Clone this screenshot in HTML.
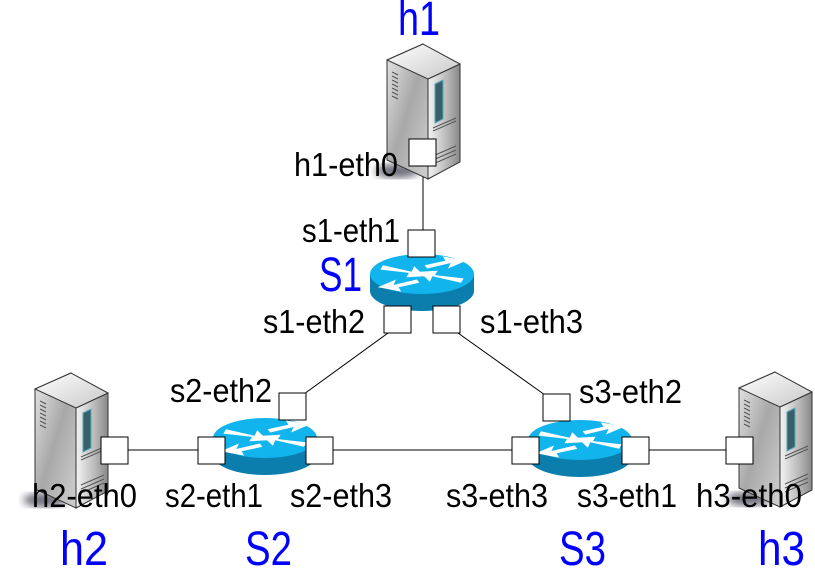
<!DOCTYPE html>
<html><head><meta charset="utf-8"><style>
html,body{margin:0;padding:0;background:#fff;width:815px;height:570px;overflow:hidden}
svg{display:block}
text{font-family:"Liberation Sans",sans-serif}
.l{font-size:33px;fill:#000}
.b{font-size:48px;fill:#0000ff}
</style></head><body>
<svg width="815" height="570" viewBox="0 0 815 570" xmlns="http://www.w3.org/2000/svg">
<defs>
<linearGradient id="sl" x1="0" y1="0" x2="1" y2="1">
<stop offset="0" stop-color="#e8e8e8"/><stop offset="0.5" stop-color="#a8a8a8"/><stop offset="1" stop-color="#d0d0d0"/></linearGradient>
<linearGradient id="sr" x1="0" y1="0" x2="1" y2="0">
<stop offset="0" stop-color="#f4f4f4"/><stop offset="0.6" stop-color="#b8b8b8"/><stop offset="1" stop-color="#888"/></linearGradient>
<linearGradient id="st" x1="0" y1="0" x2="1" y2="1">
<stop offset="0" stop-color="#ffffff"/><stop offset="1" stop-color="#c8c8c8"/></linearGradient>
<filter id="blur"><feGaussianBlur stdDeviation="4"/></filter>
<g id="srv">
<ellipse cx="-26" cy="127" rx="22" ry="7" fill="#334" opacity="0.7" filter="url(#blur)"/>
<path d="M0 0 L-36 16 L-36 116 L5 135 L5 35 Z" fill="url(#sl)" stroke="#333" stroke-width="1"/>
<path d="M5 35 L37 20 L37 118 L5 135 Z" fill="url(#sr)" stroke="#333" stroke-width="1"/>
<path d="M0 0 L-36 16 L5 35 L37 20 Z" fill="url(#st)" stroke="#333" stroke-width="1"/>
<path d="M12 40 L20 36 L20 75 L12 79 Z" fill="#386068" stroke="#5ab" stroke-width="1"/>
<g stroke="#555" stroke-width="1">
<line x1="-31" y1="28" x2="-25" y2="31"/><line x1="-31" y1="32" x2="-25" y2="35"/><line x1="-31" y1="36" x2="-25" y2="39"/><line x1="-31" y1="40" x2="-25" y2="43"/><line x1="-31" y1="44" x2="-25" y2="47"/><line x1="-31" y1="48" x2="-25" y2="51"/><line x1="-31" y1="52" x2="-25" y2="55"/>
<line x1="10" y1="84" x2="33" y2="74"/><line x1="10" y1="87" x2="33" y2="77"/>
<line x1="10" y1="112" x2="33" y2="102"/><line x1="10" y1="116" x2="33" y2="106"/><line x1="10" y1="120" x2="33" y2="110"/>
</g>
</g>
<g id="rtr">
<path d="M-52 0 L-52 17 A52 20 0 0 0 52 17 L52 0 Z" fill="#0b7eae"/>
<ellipse cx="0" cy="0" rx="52" ry="20" fill="#12b4ee"/>
<g fill="#fff" transform="scale(1.3,1.1)">
<path d="M-30 -8 L-8 -2 L-6 -7 L2 2 L-12 3 L-10 -1 L-32 -4 Z"/>
<path d="M30 8 L8 2 L6 7 L-2 -2 L12 -3 L10 1 L32 4 Z"/>
<path d="M-34 12 L-20 5 L-22 10 L-4 5 L-2 8 L-18 12 L-16 16 Z"/>
<path d="M34 -12 L20 -5 L22 -10 L4 -5 L2 -8 L18 -12 L16 -16 Z"/>
</g>
</g>
</defs>
<g stroke="#000" stroke-width="1" fill="none">
<line x1="423" y1="166" x2="423" y2="230"/>
<line x1="388" y1="333" x2="304" y2="394"/>
<line x1="458" y1="333" x2="545" y2="395"/>
<line x1="128" y1="450" x2="198" y2="450"/>
<line x1="331" y1="450" x2="512" y2="450"/>
<line x1="648" y1="450" x2="726" y2="450"/>
</g>
<use href="#srv" x="423" y="44"/>
<use href="#srv" x="71" y="373"/>
<use href="#srv" x="775" y="372"/>
<use href="#rtr" x="422" y="274"/>
<use href="#rtr" x="265" y="438"/>
<use href="#rtr" x="580" y="440"/>
<g fill="#fff" stroke="#000" stroke-width="1">
<rect x="409" y="139" width="27" height="27"/>
<rect x="408" y="230" width="27" height="27"/>
<rect x="384" y="306" width="27" height="27"/>
<rect x="433" y="306" width="27" height="27"/>
<rect x="279" y="393" width="27" height="27"/>
<rect x="101" y="437" width="27" height="27"/>
<rect x="198" y="437" width="27" height="27"/>
<rect x="306" y="437" width="27" height="27"/>
<rect x="543" y="394" width="27" height="27"/>
<rect x="512" y="437" width="27" height="27"/>
<rect x="622" y="437" width="27" height="27"/>
<rect x="726" y="437" width="27" height="27"/>
</g>
<text class="l" x="294" y="176" textLength="104" lengthAdjust="spacingAndGlyphs">h1-eth0</text>
<text class="l" x="302" y="242" textLength="98" lengthAdjust="spacingAndGlyphs">s1-eth1</text>
<text class="l" x="263" y="333" textLength="102" lengthAdjust="spacingAndGlyphs">s1-eth2</text>
<text class="l" x="480" y="333" textLength="103" lengthAdjust="spacingAndGlyphs">s1-eth3</text>
<text class="l" x="170" y="402" textLength="102" lengthAdjust="spacingAndGlyphs">s2-eth2</text>
<text class="l" x="579" y="403" textLength="103" lengthAdjust="spacingAndGlyphs">s3-eth2</text>
<text class="l" x="32" y="507" textLength="105" lengthAdjust="spacingAndGlyphs">h2-eth0</text>
<text class="l" x="165" y="507" textLength="98" lengthAdjust="spacingAndGlyphs">s2-eth1</text>
<text class="l" x="290" y="507" textLength="102" lengthAdjust="spacingAndGlyphs">s2-eth3</text>
<text class="l" x="446" y="507" textLength="102" lengthAdjust="spacingAndGlyphs">s3-eth3</text>
<text class="l" x="577" y="507" textLength="100" lengthAdjust="spacingAndGlyphs">s3-eth1</text>
<text class="l" x="696" y="507" textLength="106" lengthAdjust="spacingAndGlyphs">h3-eth0</text>
<text class="b" x="398" y="35" textLength="42" lengthAdjust="spacingAndGlyphs">h1</text>
<text class="b" x="319" y="291" textLength="43" lengthAdjust="spacingAndGlyphs">S1</text>
<text class="b" x="60" y="565" textLength="48" lengthAdjust="spacingAndGlyphs">h2</text>
<text class="b" x="245" y="565" textLength="47" lengthAdjust="spacingAndGlyphs">S2</text>
<text class="b" x="559" y="565" textLength="47" lengthAdjust="spacingAndGlyphs">S3</text>
<text class="b" x="758" y="565" textLength="47" lengthAdjust="spacingAndGlyphs">h3</text>
</svg>
</body></html>
